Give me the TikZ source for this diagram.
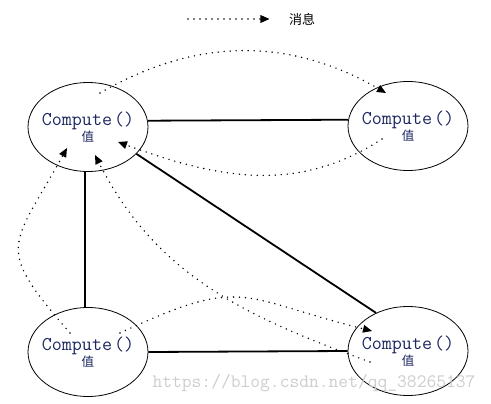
\documentclass[tikz,border=0pt]{standalone}
\usepackage{fontspec}
\newfontfamily\cjk{Noto Sans CJK SC}
\usetikzlibrary{arrows.meta, shapes.geometric, calc}
\definecolor{cnavy}{HTML}{1C2660}
\definecolor{cmark}{HTML}{CDCDCD}
\tikzset{
  vertex/.style={draw, ellipse, line width=0.8pt, minimum width=120pt, minimum height=89pt, inner ysep=0pt, inner xsep=-15pt, align=center, text=cnavy, font=\cjk\fontsize{12.5}{16}\selectfont},
  edge/.style={line width=1.8pt},
  msg/.style={line width=1.6pt, line cap=round, dash pattern=on 0pt off 6pt, -{Triangle[length=9pt, width=8pt, line width=0pt]}},
}
\newcommand{\vlabel}{{\ttfamily\fontsize{19.5}{20}\selectfont Compute\kern2pt()}\\值}

\begin{document}
\begin{tikzpicture}[x=1pt, y=1pt]
  \useasboundingbox (0,0) rectangle (491,-404);
  % legend
  \coordinate (lg0) at (188,-19);
  \node[font=\cjk\fontsize{13}{14}\selectfont] (lgtxt) at (302,-19) {消息};
  \draw[msg, shorten >=16pt] (lg0) -- (lgtxt.west);
  % the four vertices
  \node[vertex] (tl) at (88,-127) {\vlabel};
  \node[vertex] (tr) at (408,-126) {\vlabel};
  \node[vertex] (bl) at (88,-352) {\vlabel};
  \node[vertex] (br) at (408,-351) {\vlabel};
  % edges
  \draw[edge] (tl.6) -- (tr.174);
  \draw[edge] (tl.266) -- (bl.94);
  \draw[edge] (tl.-29) -- (br.130);
  \draw[edge] (bl.east) -- (br.west);
  % message ends
  \coordinate (a0) at ($(tl)+(12,34)$);
  \coordinate (a1) at ($(tr)+(-22,33)$);
  \coordinate (b0) at ($(tr)+(-26,-13)$);
  \coordinate (b1) at ($(tl)+(30,-15)$);
  \coordinate (c0) at ($(bl)+(-18,19)$);
  \coordinate (c1) at ($(tl)+(-21,-21)$);
  \coordinate (d0) at ($(bl)+(32,19)$);
  \coordinate (d1) at ($(br)+(-36,20)$);
  \coordinate (e0) at ($(br)+(-38,-11)$);
  \coordinate (e1) at ($(tl)+(7,-28)$);
  % messages
  \draw[msg] (a0) to[out=30, in=150] (a1);
  \draw[msg] (b0) to[out=213, in=-20] (b1);
  \draw[msg] (c0) to[out=131, in=241, looseness=1.6] (c1);
  \draw[msg] (d0) to[out=25, in=166, looseness=1.4] (d1);
  \draw[msg] (e0) to[out=160, in=297] (e1);
  \node[text=cmark, font=\ttfamily\fontsize{19}{20}\selectfont] (wm) at (314,-383) {https://blog.csdn.net/qq\_38265137};
\end{tikzpicture}
\end{document}
